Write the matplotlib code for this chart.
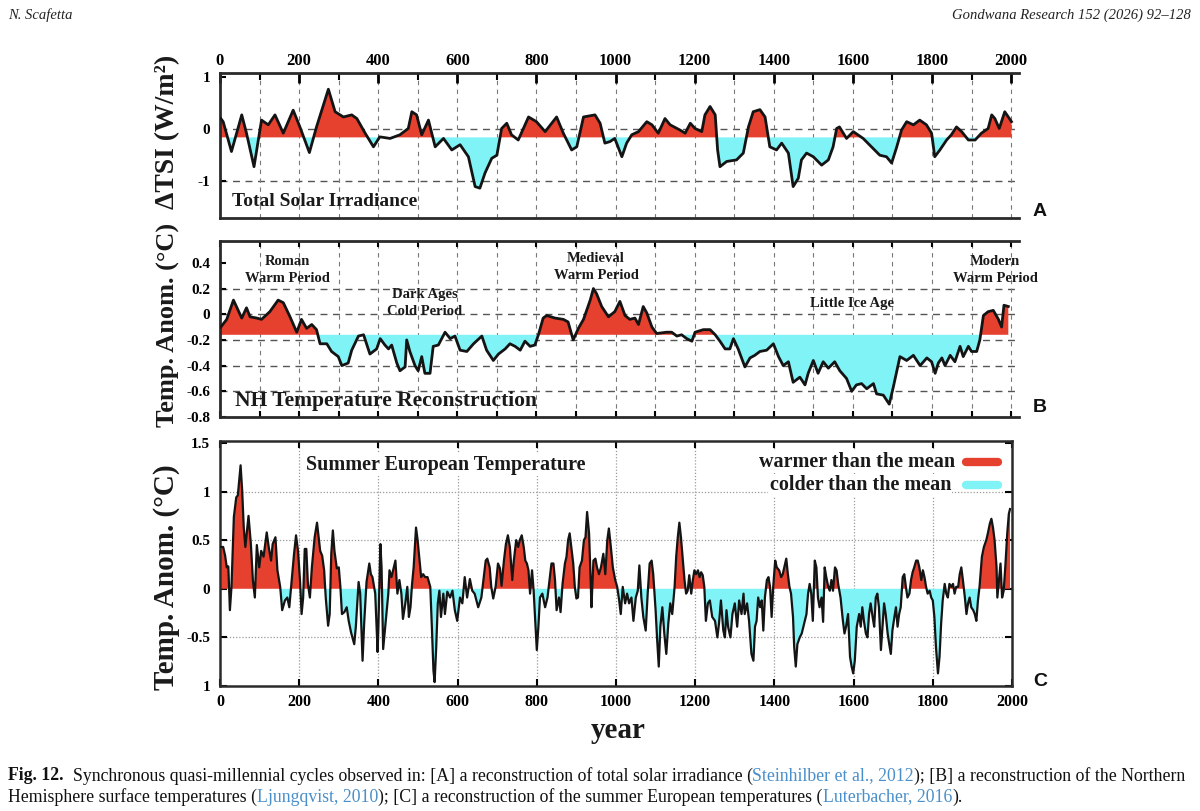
import numpy as np
import matplotlib
matplotlib.use('Agg')
import matplotlib.pyplot as plt
from matplotlib.lines import Line2D
from matplotlib.ticker import MultipleLocator

# ---------------- data ----------------
tsi_year = [2, 8, 29, 55, 67, 86, 105, 122, 139, 160,
            185, 202, 226, 244, 274, 291, 312, 333, 346, 367,
            388, 404, 430, 455, 476, 485, 497, 510, 527, 544,
            565, 586, 607, 628, 645, 657, 670, 687, 700, 712,
            725, 737, 754, 780, 800, 822, 851, 868, 889, 902,
            919, 948, 961, 973, 986, 998, 1016, 1028, 1041, 1058,
            1079, 1092, 1108, 1125, 1138, 1163, 1176, 1189, 1201, 1218,
            1226, 1239, 1252, 1258, 1264, 1281, 1306, 1323, 1336, 1348,
            1365, 1378, 1390, 1407, 1420, 1437, 1449, 1462, 1470, 1483,
            1500, 1521, 1538, 1550, 1559, 1566, 1584, 1601, 1626, 1647,
            1668, 1685, 1698, 1711, 1723, 1736, 1753, 1769, 1786, 1799,
            1807, 1820, 1837, 1849, 1862, 1875, 1892, 1909, 1925, 1942,
            1951, 1959, 1970, 1984, 1993, 2001]
tsi_val = [0.20, 0.14, -0.43, 0.27, -0.08, -0.72, 0.17, 0.08, 0.27, -0.08,
           0.36, 0.04, -0.45, 0.04, 0.76, 0.33, 0.23, 0.27, 0.20, -0.08,
           -0.34, -0.15, -0.18, -0.11, 0.01, 0.33, 0.27, -0.11, 0.17, -0.34,
           -0.18, -0.40, -0.30, -0.53, -1.10, -1.13, -0.84, -0.56, -0.50, 0.01,
           0.11, -0.11, -0.21, 0.23, 0.14, -0.05, 0.23, -0.08, -0.40, -0.34,
           0.23, 0.27, 0.11, -0.27, -0.24, -0.18, -0.53, -0.27, -0.11, -0.05,
           0.14, 0.08, -0.08, 0.20, 0.08, -0.02, -0.08, 0.11, 0.01, -0.05,
           0.27, 0.43, 0.27, -0.40, -0.72, -0.62, -0.59, -0.46, 0.04, 0.33,
           0.37, 0.23, -0.34, -0.40, -0.27, -0.46, -1.10, -0.94, -0.59, -0.46,
           -0.53, -0.69, -0.59, -0.34, 0.01, 0.04, -0.18, -0.05, -0.18, -0.34,
           -0.50, -0.53, -0.65, -0.34, -0.02, 0.14, 0.08, 0.17, 0.08, -0.08,
           -0.53, -0.40, -0.21, -0.11, 0.04, -0.05, -0.21, -0.21, -0.08, 0.01,
           0.27, 0.20, 0.01, 0.33, 0.23, 0.14]
tsi_mean = -0.16

nh_year = [2, 17, 34, 46, 55, 67, 76, 93, 105, 126,
           147, 160, 177, 194, 206, 219, 232, 244, 253, 270,
           282, 299, 308, 324, 333, 350, 363, 379, 396, 405,
           417, 426, 434, 447, 455, 468, 472, 480, 493, 501,
           510, 518, 531, 539, 552, 569, 582, 594, 607, 624,
           641, 662, 674, 691, 704, 721, 733, 746, 759, 771,
           784, 796, 805, 817, 826, 847, 868, 880, 893, 906,
           919, 936, 944, 952, 965, 982, 998, 1011, 1024, 1036,
           1049, 1058, 1070, 1079, 1092, 1104, 1129, 1142, 1155, 1167,
           1180, 1193, 1201, 1222, 1239, 1252, 1264, 1277, 1289, 1298,
           1310, 1327, 1340, 1352, 1365, 1382, 1399, 1412, 1424, 1437,
           1449, 1466, 1479, 1487, 1500, 1512, 1525, 1538, 1554, 1567,
           1584, 1597, 1609, 1622, 1635, 1652, 1660, 1677, 1692, 1702,
           1719, 1736, 1753, 1770, 1787, 1799, 1808, 1816, 1825, 1833,
           1846, 1858, 1871, 1879, 1892, 1900, 1913, 1921, 1930, 1942,
           1955, 1968, 1976, 1982, 1993]
nh_val = [-0.10, -0.04, 0.11, 0.03, -0.03, 0.05, -0.02, -0.03, -0.04, 0.02,
          0.11, 0.09, -0.02, -0.14, -0.04, -0.11, -0.08, -0.12, -0.23, -0.23,
          -0.29, -0.33, -0.40, -0.38, -0.28, -0.17, -0.16, -0.31, -0.27, -0.19,
          -0.24, -0.27, -0.24, -0.38, -0.44, -0.41, -0.20, -0.29, -0.40, -0.44,
          -0.33, -0.46, -0.46, -0.25, -0.24, -0.14, -0.19, -0.17, -0.28, -0.29,
          -0.23, -0.17, -0.28, -0.36, -0.31, -0.27, -0.23, -0.25, -0.28, -0.21,
          -0.25, -0.24, -0.16, -0.03, -0.01, -0.03, -0.04, -0.06, -0.20, -0.11,
          -0.04, 0.11, 0.20, 0.16, 0.06, -0.02, 0.02, 0.10, -0.01, -0.04,
          -0.03, -0.08, 0.06, 0.01, -0.10, -0.15, -0.14, -0.14, -0.17, -0.16,
          -0.19, -0.21, -0.14, -0.12, -0.12, -0.16, -0.21, -0.27, -0.27, -0.19,
          -0.27, -0.41, -0.34, -0.32, -0.29, -0.28, -0.23, -0.33, -0.40, -0.37,
          -0.53, -0.49, -0.55, -0.46, -0.36, -0.46, -0.37, -0.42, -0.37, -0.44,
          -0.50, -0.60, -0.55, -0.54, -0.58, -0.54, -0.62, -0.63, -0.70, -0.57,
          -0.33, -0.36, -0.32, -0.40, -0.34, -0.37, -0.46, -0.38, -0.34, -0.40,
          -0.32, -0.37, -0.25, -0.33, -0.25, -0.29, -0.29, -0.20, -0.01, 0.02,
          0.03, -0.04, -0.10, 0.07, 0.06]
nh_mean = -0.16

eu_year = [3, 8, 13, 17, 21, 25, 29, 35, 41, 45,
           52, 56, 60, 64, 72, 78, 83, 88, 93, 99,
           104, 110, 118, 123, 129, 133, 140, 145, 152, 157,
           164, 170, 175, 181, 187, 192, 197, 202, 206, 210,
           214, 218, 222, 227, 232, 239, 245, 249, 253, 258,
           263, 267, 273, 277, 281, 285, 289, 295, 300, 304,
           308, 314, 320, 325, 331, 339, 343, 350, 354, 360,
           364, 370, 377, 381, 385, 392, 398, 400, 405, 408,
           412, 418, 425, 428, 433, 439, 443, 448, 453, 458,
           462, 468, 473, 477, 481, 485, 489, 495, 499, 504,
           508, 513, 518, 524, 531, 535, 539, 542, 546, 550,
           554, 558, 564, 568, 574, 581, 587, 593, 599, 606,
           612, 618, 624, 631, 637, 643, 652, 660,
           671, 675, 681, 685, 690, 696, 702, 707, 711, 717,
           722, 727, 732, 738, 742, 748, 753, 757, 762, 767,
           771, 775, 779, 783, 788, 792, 796, 800, 804, 808,
           814, 821, 827, 832, 837, 842, 846, 850, 856, 860,
           865, 871, 875, 879, 883, 887, 892, 896, 900, 904,
           908, 914, 919, 923, 927, 932, 936, 938, 943, 948,
           952, 957, 962, 968, 973, 978, 982, 987, 992, 998,
           1003, 1008, 1012, 1017, 1023, 1028, 1033, 1039, 1044, 1050,
           1055, 1059, 1064, 1069, 1075, 1080, 1085, 1090, 1094, 1100,
           1104, 1108, 1112, 1117, 1122, 1127, 1132, 1137, 1142, 1148,
           1152, 1156, 1160, 1164, 1168, 1173, 1177, 1181, 1185, 1190,
           1194, 1198, 1202, 1207, 1211, 1215, 1219, 1223, 1227, 1232,
           1237, 1243, 1250, 1256, 1260, 1265, 1271, 1275, 1279, 1283,
           1289, 1294, 1300, 1306, 1311, 1317, 1322,
           1325, 1331, 1336, 1342, 1347, 1351, 1355, 1359, 1364, 1368,
           1372, 1376, 1381, 1385, 1389, 1393, 1397, 1402, 1406, 1412,
           1417, 1421, 1425, 1430, 1434, 1438, 1442, 1447, 1450, 1454,
           1458, 1464, 1469, 1475, 1481, 1485, 1489, 1493, 1497, 1502,
           1506, 1510, 1514, 1519, 1523, 1527, 1531, 1536, 1540, 1544,
           1548, 1553, 1557, 1561, 1567, 1573, 1577, 1581, 1586, 1591,
           1595, 1599, 1603, 1608, 1614, 1618, 1622, 1626, 1631, 1635,
           1639, 1643, 1648, 1652, 1656, 1660, 1664, 1669, 1673, 1677,
           1681, 1686, 1690, 1694, 1698, 1703, 1707, 1711, 1715, 1719,
           1724, 1728, 1732, 1736, 1741, 1745, 1749, 1753, 1758, 1762,
           1766, 1771, 1775, 1779, 1783, 1787, 1792, 1796, 1800, 1804,
           1808, 1813, 1817, 1821, 1825, 1830, 1834, 1838, 1842, 1847,
           1851, 1855, 1859, 1864, 1868, 1872, 1876, 1881, 1885, 1889,
           1893, 1897, 1902, 1906, 1910, 1914, 1918, 1924, 1929, 1935,
           1939, 1944, 1948, 1952, 1956, 1961, 1963, 1967, 1971, 1975,
           1979, 1983, 1988, 1992, 1995]
eu_temp = [0.43, 0.43, 0.34, 0.22, 0.23, -0.22, 0.02, 0.74, 0.94, 0.96,
           1.27, 1.01, 0.63, 0.43, 0.75, 0.46, 0.09, -0.09, 0.45, 0.22,
           0.39, 0.33, 0.58, 0.43, 0.29, 0.46, 0.53, 0.19, 0.02, -0.22,
           -0.12, -0.09, -0.19, 0.09, 0.36, 0.55, 0.39, 0.09, -0.26, -0.09,
           0.41, 0.41, 0.05, -0.09, 0.22, 0.53, 0.68, 0.53, 0.39, 0.34,
           0.19, -0.09, -0.38, -0.26, 0.36, 0.60, 0.39, 0.21, 0.22, 0.02,
           -0.26, -0.24, -0.19, -0.33, -0.45, -0.57, -0.39, 0.07, -0.05, -0.74,
           -0.36, 0.07, 0.26, 0.15, 0.12, -0.05, -0.65, -0.39, 0.46, 0.22,
           -0.62, -0.36, -0.05, 0.19, 0.12, 0.22, 0.29, -0.05, 0.09, -0.05,
           -0.31, -0.15, 0.02, -0.29, -0.19, 0.05, 0.22, 0.63, 0.50, 0.29,
           0.12, 0.15, 0.12, 0.12, 0.02, -0.39, -0.84, -0.96, -0.60, -0.15,
           -0.02, -0.29, -0.05, -0.26, -0.03, -0.09, -0.02, -0.22, -0.33, -0.09,
           -0.15, 0.12, -0.09, 0.10, -0.02, -0.05, -0.19, -0.09,
           0.29, 0.31, 0.22, 0.02, -0.10, 0.02, 0.26, 0.21, 0.03, 0.29,
           0.46, 0.55, 0.43, 0.09, 0.29, 0.50, 0.43, 0.50, 0.55, 0.43,
           0.29, 0.26, 0.19, -0.05, 0.19, -0.02, -0.33, -0.63, -0.39, -0.09,
           -0.05, -0.19, -0.09, 0.09, 0.26, 0.26, 0.09, -0.22, -0.09, -0.24,
           0.05, 0.26, 0.33, 0.50, 0.57, 0.43, 0.26, 0.02, -0.10, -0.09,
           0.22, 0.29, 0.50, 0.53, 0.79, 0.57, 0.09, -0.19, 0.29, 0.31,
           0.22, 0.15, 0.22, 0.36, 0.15, 0.50, 0.62, 0.43, 0.22, 0.09,
           0.02, -0.12, -0.26, 0.02, -0.15, -0.05, -0.15, -0.09, -0.33, -0.09,
           -0.02, 0.24, -0.09, -0.29, -0.43, -0.05, 0.26, 0.29, 0.15, -0.22,
           -0.53, -0.80, -0.39, -0.19, -0.46, -0.67, -0.36, -0.15, -0.26, 0.02,
           0.33, 0.53, 0.68, 0.53, 0.33, 0.09, -0.05, -0.02, 0.14, -0.05,
           0.09, 0.19, 0.15, 0.19, 0.12, 0.17, 0.14, 0.02, -0.33, -0.15,
           -0.12, -0.29, -0.33, -0.50, -0.36, -0.12, -0.43, -0.50, -0.22, -0.39,
           -0.50, -0.26, -0.15, -0.39, -0.12, -0.26, -0.05,
           -0.26, -0.15, -0.33, -0.67, -0.74, -0.39, -0.33, -0.09, -0.19, -0.12,
           -0.43, -0.09, 0.09, 0.12, 0.02, -0.29, 0.02, 0.29, 0.22, 0.19,
           0.12, 0.15, 0.22, 0.31, 0.15, 0.02, -0.05, -0.29, -0.60, -0.80,
           -0.57, -0.50, -0.46, -0.36, -0.26, -0.05, 0.05, -0.05, -0.33, 0.29,
           0.22, -0.09, -0.19, -0.09, -0.34, 0.22, 0.12, 0.02, -0.02, 0.09,
           -0.02, 0.22, 0.19, 0.05, -0.09, -0.33, -0.46, -0.39, -0.26, -0.70,
           -0.80, -0.87, -0.74, -0.39, -0.26, -0.39, -0.19, -0.33, -0.46, -0.50,
           -0.26, -0.15, -0.29, -0.39, -0.09, -0.05, -0.19, -0.63, -0.39, -0.15,
           -0.26, -0.46, -0.57, -0.67, -0.43, -0.29, -0.19, -0.39, -0.26, -0.19,
           0.12, 0.15, 0.02, -0.09, -0.05, 0.09, 0.17, 0.22, 0.29, 0.29,
           0.22, 0.09, 0.19, 0.12, 0.02, -0.05, -0.02, -0.09, -0.12, -0.29,
           -0.60, -0.87, -0.70, -0.36, -0.12, 0.05, -0.05, -0.09, 0.05, 0.02,
           0.05, -0.05, 0.02, 0.02, 0.15, 0.22, 0.09, -0.09, -0.26, -0.15,
           -0.09, -0.19, -0.22, -0.26, -0.33, -0.12, 0.02, 0.33, 0.43, 0.50,
           0.57, 0.67, 0.72, 0.63, 0.50, 0.22, -0.09, 0.09, 0.26, -0.09,
           -0.02, 0.22, 0.57, 0.77, 0.82]
eu_mean = 0.0

year_ticks = [0, 200, 400, 600, 800, 1000, 1200, 1400, 1600, 1800, 2000]
tsi_ticks = [-1, 0, 1]
nh_ticks = [-0.8, -0.6, -0.4, -0.2, 0, 0.2, 0.4]
nh_tick_labels = ['-0.8', '-0.6', '-0.4', '-0.2', '0', '0.2', '0.4']
eu_ticks = [-1, -0.5, 0, 0.5, 1, 1.5]
eu_tick_labels = ['1', '-0.5', '0', '0.5', '1', '1.5']

# ---------------- style ----------------
W, H = 1200, 811
SERIF = ['Liberation Serif', 'DejaVu Serif']
plt.rcParams['font.family'] = SERIF
plt.rcParams['font.weight'] = 'bold'
RED = '#e6402f'
CYAN = '#80f3f6'
INK = '#141414'
BLUE = '#4a8fc9'

fig = plt.figure(figsize=(12, 8.11), dpi=100)


def fax(l, t, r, b):
    return fig.add_axes([l / W, 1 - b / H, (r - l) / W, (b - t) / H])


def ftext(x, y, s, **kw):
    return fig.text(x / W, 1 - y / H, s, **kw)


def draw_series(ax, x, y, base, lw):
    x = np.asarray(x, float)
    y = np.asarray(y, float)
    ax.fill_between(x, y, base, where=y >= base, interpolate=True,
                    color=RED, lw=0, zorder=2)
    ax.fill_between(x, y, base, where=y <= base, interpolate=True,
                    color=CYAN, lw=0, zorder=2)
    ax.plot(x, y, color=INK, lw=lw, zorder=3, solid_joinstyle='round')


def style_spines(ax, sides, lw=2.0, color='#2a2a2a'):
    for s in ['left', 'right', 'top', 'bottom']:
        if s in sides:
            ax.spines[s].set_linewidth(lw)
            ax.spines[s].set_color(color)
        else:
            ax.spines[s].set_visible(False)


VGRID = dict(color='#7a7a7a', ls=(0, (4, 4)), lw=0.8, zorder=1)

# ---------------- panel A ----------------
axA = fax(220, 73, 1019, 218)
axA.set_xlim(0, 2020)
axA.set_ylim(-1.7, 1.07)
draw_series(axA, tsi_year, tsi_val, tsi_mean, 2.0)
style_spines(axA, ['left', 'top', 'bottom'])
axA.xaxis.tick_top()
axA.set_xticks(year_ticks)
axA.set_xticklabels([str(v) for v in year_ticks], fontsize=12, fontweight='bold')
axA.xaxis.set_minor_locator(MultipleLocator(100))
axA.tick_params(axis='x', which='major', direction='in', length=7, width=2, pad=3,
                top=True, bottom=False)
axA.tick_params(axis='x', which='minor', direction='in', length=5, width=1.5,
                top=True, bottom=False)
axA.set_yticks(tsi_ticks)
axA.set_yticklabels(['-1', '0', '1'], fontsize=11, fontweight='bold')
axA.tick_params(axis='y', direction='in', length=4, width=1.5, pad=7)
for yv in [0, -1]:
    axA.axhline(yv, color='#555555', ls=(0, (5, 4)), lw=1.0, zorder=1)
for xv in range(100, 2001, 100):
    axA.axvline(xv, **VGRID)
ftext(232, 201, 'Total Solar Irradiance', fontsize=14, fontweight='bold',
      color='#1a1a1a', va='center', ha='left')

# ---------------- panel B ----------------
axB = fax(220, 241, 1019, 417)
axB.set_xlim(0, 2020)
axB.set_ylim(-0.8, 0.57)
draw_series(axB, nh_year, nh_val, nh_mean, 2.0)
style_spines(axB, ['left', 'top', 'bottom'])
axB.set_xticks(year_ticks)
axB.set_xticklabels([])
axB.xaxis.set_minor_locator(MultipleLocator(100))
axB.tick_params(axis='x', which='both', direction='in', length=4, width=1.5,
                top=True, bottom=True)
axB.set_yticks(nh_ticks)
axB.set_yticklabels(nh_tick_labels, fontsize=11, fontweight='bold')
axB.tick_params(axis='y', direction='in', length=4, width=1.5, pad=7)
for yv in [0.2, 0, -0.2, -0.4, -0.6]:
    axB.axhline(yv, color='#555555', ls=(0, (5, 4)), lw=1.0, zorder=1)
for xv in range(100, 2001, 100):
    axB.axvline(xv, **VGRID)
ftext(235, 401, 'NH Temperature Reconstruction', fontsize=15.5, fontweight='bold',
      color='#1a1a1a', va='center', ha='left')
period_kw = dict(fontsize=10.5, fontweight='bold', color='#1a1a1a', ha='center',
                 va='center', linespacing=1.4)
ftext(287, 270, 'Roman\nWarm Period', **period_kw)
ftext(425, 303, 'Dark Ages\nCold Period', **period_kw)
ftext(596, 267, 'Medieval\nWarm Period', **period_kw)
ftext(852, 303, 'Little Ice Age', **period_kw)
ftext(995, 270, 'Modern\nWarm Period', **period_kw)

# ---------------- panel C ----------------
axC = fax(220, 441, 1012, 686)
axC.set_xlim(0, 2000)
axC.set_ylim(-1.0, 1.52)
draw_series(axC, eu_year, eu_temp, eu_mean, 1.6)
style_spines(axC, ['left', 'top', 'bottom', 'right'], lw=1.8)
axC.set_xticks(year_ticks)
axC.set_xticklabels([str(v) for v in year_ticks], fontsize=11.5, fontweight='bold')
axC.tick_params(axis='x', direction='in', length=5, width=1.5, pad=6,
                top=True, bottom=True)
axC.set_yticks(eu_ticks)
axC.set_yticklabels(eu_tick_labels, fontsize=11, fontweight='bold')
axC.tick_params(axis='y', direction='in', length=5, width=1.5, pad=7,
                left=True, right=True)
for yv in [1.0, 0.5, -0.5]:
    axC.axhline(yv, color='#9a9a9a', ls=(0, (1, 1.5)), lw=0.9, zorder=1)
for xv in range(200, 2000, 200):
    axC.axvline(xv, color='#9a9a9a', ls=(0, (1, 1.5)), lw=0.9, zorder=1)
ftext(306, 465, 'Summer European Temperature', fontsize=14.5, fontweight='bold',
      color='#1a1a1a', va='center', ha='left',
      bbox=dict(facecolor='white', edgecolor='none', pad=1))
ftext(955, 462, 'warmer than the mean', fontsize=14.5, fontweight='bold',
      color='#1a1a1a', va='center', ha='right',
      bbox=dict(facecolor='white', edgecolor='none', pad=1))
ftext(951, 485, 'colder than the mean', fontsize=14.5, fontweight='bold',
      color='#1a1a1a', va='center', ha='right',
      bbox=dict(facecolor='white', edgecolor='none', pad=1))
fig.add_artist(Line2D([966 / W, 998 / W], [1 - 462 / H] * 2, lw=6, color=RED,
                      solid_capstyle='round'))
fig.add_artist(Line2D([966 / W, 998 / W], [1 - 485 / H] * 2, lw=6, color=CYAN,
                      solid_capstyle='round'))

# ---------------- axis titles / panel letters ----------------
ftext(168, 132, 'ΔTSI (W/m²)', fontsize=20, fontweight='bold', rotation=90,
      ha='center', va='center', color='#1a1a1a')
ftext(168, 325, 'Temp. Anom. (°C)', fontsize=19, fontweight='bold', rotation=90,
      ha='center', va='center', color='#1a1a1a')
ftext(166, 577, 'Temp. Anom. (°C)', fontsize=21, fontweight='bold', rotation=90,
      ha='center', va='center', color='#1a1a1a')
ftext(618, 730, 'year', fontsize=21, fontweight='bold', ha='center', va='center',
      color='#1a1a1a')
letter_kw = dict(fontsize=14, fontweight='bold', ha='center', va='center',
                 family=['Liberation Sans', 'DejaVu Sans'], color='#111111')
ftext(1040, 212, 'A', **letter_kw)
ftext(1040, 408, 'B', **letter_kw)
ftext(1040, 682, 'C', **letter_kw)

# ---------------- header ----------------
ftext(8, 15, 'N. Scafetta', fontsize=10.5, fontstyle='italic', fontweight='normal',
      ha='left', va='center', color='#222222')
ftext(1191, 15, 'Gondwana Research 152 (2026) 92–128', fontsize=10.5,
      fontstyle='italic', fontweight='normal', ha='right', va='center',
      color='#222222')

# ---------------- caption ----------------
cap_ax = fig.add_axes([0, 0, 1, 1])
cap_ax.set_axis_off()
cap_ax.set_zorder(-5)

line1 = [('Fig. 12.', 'bold', '#111111'),
         ('  Synchronous quasi-millennial cycles observed in: [A] a reconstruction of total solar irradiance (', 'normal', '#111111'),
         ('Steinhilber et al., 2012', 'normal', BLUE),
         ('); [B] a reconstruction of the Northern', 'normal', '#111111')]
line2 = [('Hemisphere surface temperatures (', 'normal', '#111111'),
         ('Ljungqvist, 2010', 'normal', BLUE),
         ('); [C] a reconstruction of the summer European temperatures (', 'normal', '#111111'),
         ('Luterbacher, 2016', 'normal', BLUE),
         (').', 'normal', '#111111')]


def chain(x, y, segs, fs):
    prev = None
    arts = []
    for s, wt, col in segs:
        if prev is None:
            t = cap_ax.text(x / W, 1 - y / H, s, transform=fig.transFigure,
                            fontsize=fs, fontweight=wt, color=col,
                            ha='left', va='center')
        else:
            t = cap_ax.annotate(s, xy=(1, 0.5), xycoords=prev, fontsize=fs,
                                fontweight=wt, color=col, ha='left', va='center')
        arts.append(t)
        prev = t
    return arts


fs = 12.0
arts1 = chain(8, 776, line1, fs)
arts2 = chain(8, 797, line2, fs)
for _ in range(3):
    fig.canvas.draw()
    r = arts1[-1].get_window_extent().x1
    fs = fs * (1184 - 8) / (r - 8)
    for t in arts1 + arts2:
        t.set_fontsize(fs)

fig.savefig('out.png', dpi=100)
